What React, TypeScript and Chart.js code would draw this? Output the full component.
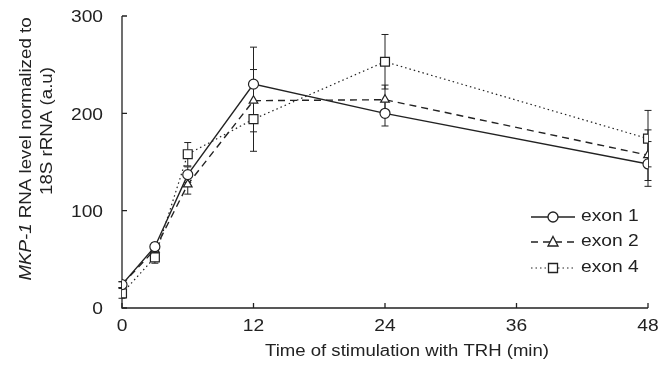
import React, { useEffect, useRef } from "react";
import Chart from "chart.js/auto";

const times = [0, 3, 6, 12, 24, 48];
const exon1 = [24, 63, 137, 230, 200, 148];
const exon1Err = [3, 4, 8, 38, 13, 23];
const exon2 = [24, 60, 127, 213, 214, 157];
const exon2Err = [3, 4, 10, 32, 15, 26];
const exon4 = [15, 52, 158, 194, 253, 174];
const exon4Err = [5, 6, 12, 33, 28, 29];
const seriesNames = ["exon 1", "exon 2", "exon 4"];
const xTicks = [0, 12, 24, 36, 48];
const yTicks = [0, 100, 200, 300];
const xTitle = "Time of stimulation with TRH (min)";
const yTitleItalic = "MKP-1";
const yTitleRest = " RNA level normalized to";
const yTitleLine2 = "18S rRNA (a.u)";

const INK = "#222";
const FONT = "Liberation Sans, Arial, Helvetica, sans-serif";
const SX = 1.2;

function txt(ctx: CanvasRenderingContext2D, s: string, x: number, y: number, align: CanvasTextAlign, size = 16, sx = SX) {
  ctx.save();
  ctx.translate(x, y);
  ctx.scale(sx, 1);
  ctx.font = `${size}px ${FONT}`;
  ctx.textAlign = align;
  ctx.textBaseline = "middle";
  ctx.fillStyle = INK;
  ctx.fillText(s, 0, 0);
  ctx.restore();
}

function marker(ctx: CanvasRenderingContext2D, style: string, x: number, y: number) {
  ctx.save();
  ctx.setLineDash([]);
  ctx.lineWidth = 1.3;
  ctx.strokeStyle = INK;
  ctx.fillStyle = "#fff";
  ctx.beginPath();
  if (style === "circle") {
    ctx.arc(x, y, 5, 0, Math.PI * 2);
  } else if (style === "triangle") {
    ctx.moveTo(x, y - 5.5);
    ctx.lineTo(x + 5, y + 4);
    ctx.lineTo(x - 5, y + 4);
    ctx.closePath();
  } else {
    ctx.rect(x - 4.5, y - 4.5, 9, 9);
  }
  ctx.fill();
  ctx.stroke();
  ctx.restore();
}

const styles = ["circle", "triangle", "rect"];
const dashes = [[], [7, 5], [1.5, 3]];
const errs = [exon1Err, exon2Err, exon4Err];

const customPlugin = {
  id: "custom",
  beforeDatasetsDraw(chart: any) {
    const ctx = chart.ctx as CanvasRenderingContext2D;
    const xs = chart.scales.x;
    const ys = chart.scales.y;
    const { left, right, top, bottom } = chart.chartArea;
    ctx.save();
    ctx.strokeStyle = INK;
    ctx.lineWidth = 1.3;
    ctx.beginPath();
    ctx.moveTo(left, top);
    ctx.lineTo(left, bottom);
    ctx.lineTo(right, bottom);
    ctx.stroke();
    ctx.beginPath();
    yTicks.forEach((v) => {
      const y = ys.getPixelForValue(v);
      ctx.moveTo(left, y);
      ctx.lineTo(left + 5, y);
    });
    xTicks.forEach((v) => {
      const x = xs.getPixelForValue(v);
      ctx.moveTo(x, bottom);
      ctx.lineTo(x, bottom - 5);
    });
    ctx.stroke();
    ctx.lineWidth = 1;
    chart.data.datasets.forEach((ds: any, i: number) => {
      ds.data.forEach((p: any, j: number) => {
        const e = errs[i][j];
        const x = xs.getPixelForValue(p.x);
        const y1 = ys.getPixelForValue(p.y + e);
        const y2 = ys.getPixelForValue(p.y - e);
        ctx.beginPath();
        ctx.moveTo(x, y1);
        ctx.lineTo(x, y2);
        ctx.moveTo(x - 3.5, y1);
        ctx.lineTo(x + 3.5, y1);
        ctx.moveTo(x - 3.5, y2);
        ctx.lineTo(x + 3.5, y2);
        ctx.stroke();
      });
    });
    ctx.restore();
    yTicks.forEach((v) => txt(ctx, String(v), left - 19, ys.getPixelForValue(v) + 2, "right"));
    xTicks.forEach((v) => txt(ctx, String(v), xs.getPixelForValue(v), bottom + 19, "center"));
    txt(ctx, xTitle, 407, 352, "center", 16, 1.16);
    ctx.save();
    ctx.translate(27, 149);
    ctx.rotate(-Math.PI / 2);
    ctx.scale(1.17, 1);
    ctx.fillStyle = INK;
    ctx.textBaseline = "middle";
    ctx.textAlign = "left";
    ctx.font = `italic 16px ${FONT}`;
    const w1 = ctx.measureText(yTitleItalic).width;
    ctx.font = `16px ${FONT}`;
    const w2 = ctx.measureText(yTitleRest).width;
    const start = -(w1 + w2) / 2;
    ctx.font = `italic 16px ${FONT}`;
    ctx.fillText(yTitleItalic, start, 0);
    ctx.font = `16px ${FONT}`;
    ctx.fillText(yTitleRest, start + w1, 0);
    ctx.restore();
    ctx.save();
    ctx.translate(48, 131);
    ctx.rotate(-Math.PI / 2);
    ctx.scale(1.17, 1);
    ctx.fillStyle = INK;
    ctx.textBaseline = "middle";
    ctx.textAlign = "center";
    ctx.font = `16px ${FONT}`;
    ctx.fillText(yTitleLine2, 0, 0);
    ctx.restore();
  },
  afterDatasetsDraw(chart: any) {
    const ctx = chart.ctx as CanvasRenderingContext2D;
    const rows = [217, 242, 268];
    seriesNames.forEach((name, i) => {
      const y = rows[i];
      ctx.save();
      ctx.strokeStyle = INK;
      ctx.lineWidth = i === 2 ? 1 : 1.3;
      ctx.setLineDash(dashes[i]);
      ctx.beginPath();
      ctx.moveTo(531, y);
      ctx.lineTo(575, y);
      ctx.stroke();
      ctx.restore();
      marker(ctx, styles[i], 553, y);
      txt(ctx, name, 581, y, "left");
    });
  },
};

export default function App() {
  const ref = useRef<HTMLCanvasElement | null>(null);
  useEffect(() => {
    if (!ref.current) return;
    const mk = (vals: number[]) => vals.map((v, i) => ({ x: times[i], y: v }));
    const sets = [exon1, exon2, exon4];
    const chart = new Chart(ref.current, {
      type: "line",
      data: {
        datasets: sets.map((vals, i) => ({
          label: seriesNames[i],
          data: mk(vals),
          borderColor: INK,
          borderWidth: i === 2 ? 1.2 : 1.4,
          borderDash: dashes[i],
          pointStyle: styles[i] as any,
          pointRadius: i === 2 ? 6.3 : 5,
          pointBackgroundColor: "#fff",
          pointBorderColor: INK,
          pointBorderWidth: 1.2,
          tension: 0,
          fill: false,
        })),
      },
      options: {
        responsive: false,
        animation: false,
        layout: { padding: { left: 0, right: 23, top: 16, bottom: 0 } },
        plugins: { legend: { display: false }, tooltip: { enabled: false } },
        scales: {
          x: {
            type: "linear",
            min: 0,
            max: 48,
            ticks: { display: false },
            grid: { display: false },
            border: { display: false },
            afterFit: (s: any) => {
              s.height = 58;
            },
          },
          y: {
            type: "linear",
            min: 0,
            max: 300,
            ticks: { display: false },
            grid: { display: false },
            border: { display: false },
            afterFit: (s: any) => {
              s.width = 122;
            },
          },
        },
      },
      plugins: [customPlugin],
    });
    return () => chart.destroy();
  }, []);
  return (
    <div style={{ position: "absolute", left: 0, top: 0, width: 671, height: 366, background: "#fff" }}>
      <canvas ref={ref} width={671} height={366} style={{ display: "block" }} />
    </div>
  );
}
